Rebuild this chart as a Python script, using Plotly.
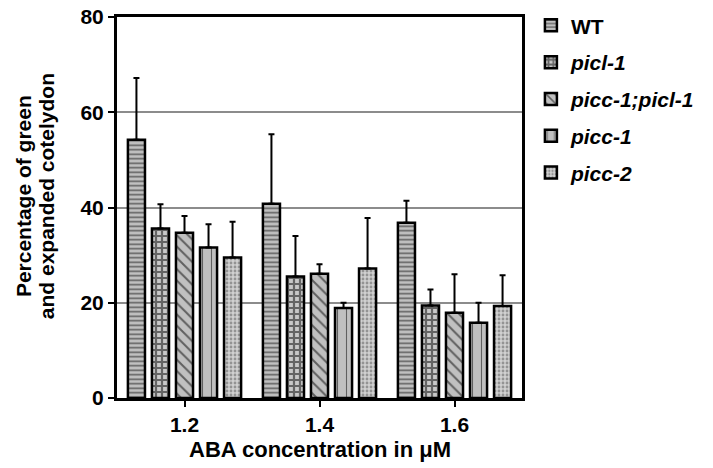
import plotly.graph_objects as go

categories = ["1.2", "1.4", "1.6"]
series_names = ["WT", "<i>picl-1</i>", "<i>picc-1;picl-1</i>", "<i>picc-1</i>", "<i>picc-2</i>"]
wt = [54.2, 40.8, 36.8]
wt_err = [13.0, 14.6, 4.6]
picl1 = [35.6, 25.5, 19.4]
picl1_err = [5.1, 8.5, 3.4]
double = [34.7, 26.1, 17.9]
double_err = [3.5, 2.0, 8.1]
picc1 = [31.6, 18.9, 15.8]
picc1_err = [4.9, 1.1, 4.2]
picc2 = [29.5, 27.2, 19.3]
picc2_err = [7.5, 10.6, 6.5]

y_title_lines = ["Percentage of green", "and expanded cotelydon"]
x_title = "ABA concentration in μM"

values = [wt, picl1, double, picc1, picc2]
errors = [wt_err, picl1_err, double_err, picc1_err, picc2_err]
patterns = [
    dict(shape="-", size=4.5, solidity=0.35, fgcolor="black", bgcolor="#c0c0c0"),
    dict(shape="+", size=6, solidity=0.6, fgcolor="black", bgcolor="#c8c8c8"),
    dict(shape="\\", size=8, solidity=0.25, fgcolor="black", bgcolor="#c0c0c0"),
    dict(shape="|", size=9, solidity=0.12, fgcolor="black", bgcolor="#c0c0c0"),
    dict(shape=".", size=4, solidity=0.4, fgcolor="#555555", bgcolor="#d0d0d0"),
]

font_family = "Liberation Sans, Arial, sans-serif"

fig = go.Figure()
for name, v, e, p in zip(series_names, values, errors, patterns):
    fig.add_trace(go.Bar(
        name=name, x=categories, y=v,
        marker=dict(color="#c0c0c0", line=dict(color="black", width=2.5), pattern=p),
        error_y=dict(type="data", array=e, arrayminus=[0] * len(e), symmetric=False,
                     color="black", thickness=2, width=3),
        legendgroup=name,
    ))

# page body has an 8px margin; figure is sized/margined to compensate
fig.update_layout(
    width=705, height=460,
    margin=dict(l=109, r=191, t=9, b=70, autoexpand=False),
    paper_bgcolor="white", plot_bgcolor="white",
    barmode="group", bargap=0.11, bargroupgap=0.29,
    font=dict(family=font_family, color="black"),
    legend=dict(x=1.022, y=1.031, xanchor="left", yanchor="top",
                font=dict(size=21, family=font_family, color="black", weight="bold"),
                tracegroupgap=6.5, itemwidth=30),
    showlegend=True,
)
fig.update_xaxes(
    type="category", range=[-0.5, 2.5], automargin=False,
    showline=True, linecolor="black", linewidth=3, mirror=True,
    ticks="outside", ticklen=6, tickwidth=2, tickcolor="black",
    tickfont=dict(size=21, weight="bold"),
    showgrid=False, ticklabeloverflow="allow",
)
fig.update_yaxes(
    range=[0, 80], tickvals=[0, 20, 40, 60, 80], automargin=False,
    showline=True, linecolor="black", linewidth=3, mirror=True,
    ticks="outside", ticklen=6, tickwidth=2, tickcolor="black",
    tickfont=dict(size=21, weight="bold"),
    showgrid=True, gridcolor="#8c8c8c", gridwidth=1.5,
    zeroline=False, ticklabeloverflow="allow",
)

fig.add_annotation(text=x_title, xref="paper", yref="paper", x=0.5, y=-0.134,
                   xanchor="center", yanchor="middle", showarrow=False,
                   font=dict(size=22, weight="bold", family=font_family, color="black"))
fig.add_annotation(text=y_title_lines[0], xref="paper", yref="paper", x=-0.232, y=0.53,
                   xanchor="center", yanchor="middle", textangle=-90, showarrow=False,
                   font=dict(size=21, weight="bold", family=font_family, color="black"))
fig.add_annotation(text=y_title_lines[1], xref="paper", yref="paper", x=-0.175, y=0.53,
                   xanchor="center", yanchor="middle", textangle=-90, showarrow=False,
                   font=dict(size=21, weight="bold", family=font_family, color="black"))

fig.write_html("out.html")
